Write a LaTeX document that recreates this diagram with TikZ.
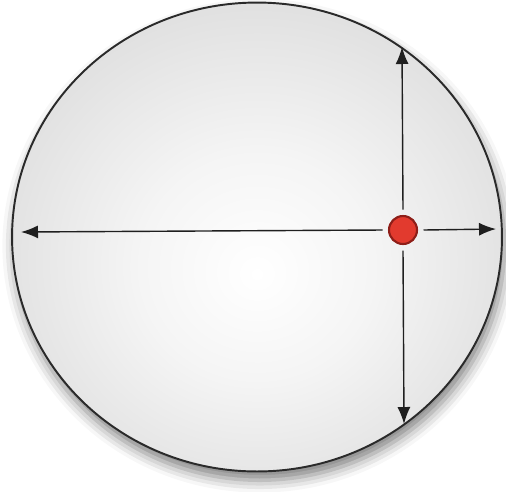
\documentclass[tikz,border=0pt]{standalone}
\usepackage{xcolor}
\usepackage{tikz}
\usetikzlibrary{shapes.geometric, arrows.meta, positioning, shadows.blur}
\definecolor{dotred}{HTML}{E23A2E}
\definecolor{dotrim}{HTML}{8E1E18}
\definecolor{rimgray}{HTML}{2A2A2A}
\pgfdeclareradialshading{discshade}{\pgfpoint{0bp}{-4bp}}{%
  color(0bp)=(white); color(12bp)=(white!96!black);
  color(50bp)=(white!76!black); color(60bp)=(white!72!black)}
\tikzset{
  discbody/.style={
    ellipse, draw=rimgray, line width=1.1pt, inner sep=0pt,
    minimum width=9.8cm, minimum height=9.38cm,
    shading=discshade,
    blur shadow={shadow xshift=1.5pt, shadow yshift=-5pt,
      shadow blur radius=7pt, shadow opacity=50}
  },
  reddot/.style={
    circle, fill=dotred, draw=dotrim, line width=1.2pt,
    minimum size=0.56cm, inner sep=0pt, outer sep=0.13cm
  },
  axisarrow/.style={
    -{Latex[length=0.34cm, width=0.26cm]}, line width=0.8pt, color=black!88
  },
}

\begin{document}
\begin{tikzpicture}[x=0.02cm, y=-0.02cm]
  \useasboundingbox (0,0) rectangle (506,491);
  % ── Disc ──
  \node[discbody] (disc) at (257,237) {};

  % ── Point and arrow ends ──
  \node[reddot] (dot) at (403,230) {};
  \coordinate (lefttip)  at (21,232);
  \coordinate (righttip) at (496,229);
  \coordinate (toptip)   at (402,47);
  \coordinate (bottip)   at (404,424);

  % ── Arrows ──
  \draw[axisarrow] (dot.west)  -- (lefttip);
  \draw[axisarrow] (dot.east)  -- (righttip);
  \draw[axisarrow] (dot.north) -- (toptip);
  \draw[axisarrow] (dot.south) -- (bottip);
\end{tikzpicture}
\end{document}
